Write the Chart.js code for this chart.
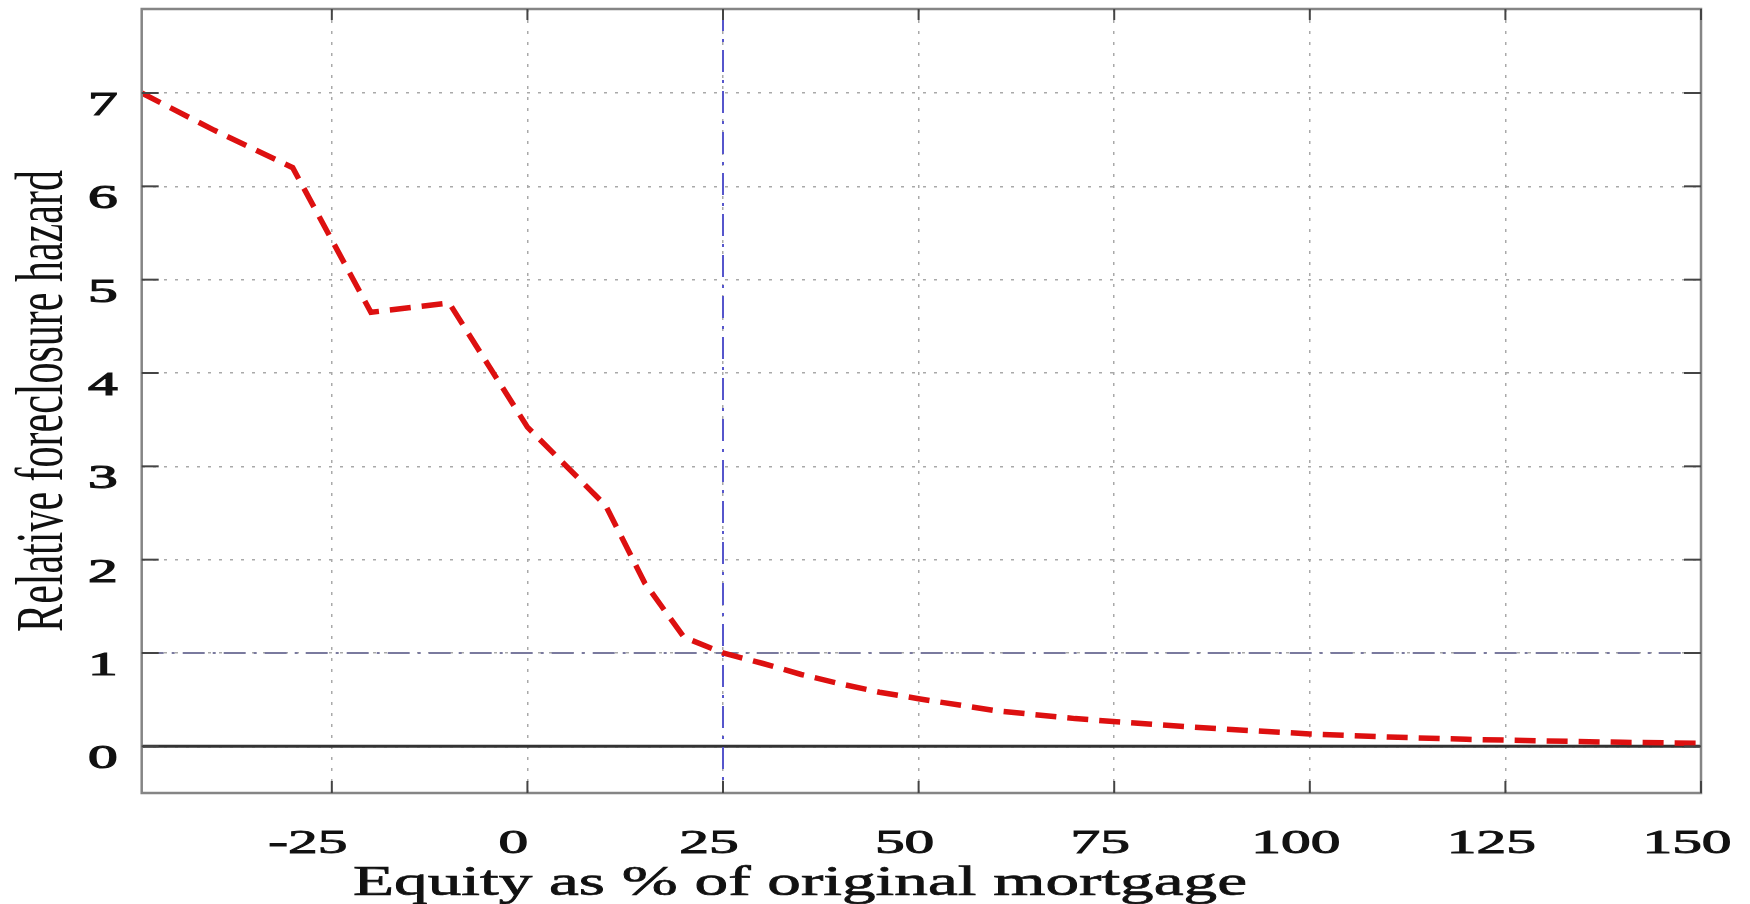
<!DOCTYPE html>
<html>
<head>
<meta charset="utf-8">
<script src="https://cdn.jsdelivr.net/npm/chart.js@4.4.0/dist/chart.umd.min.js"></script>
<style>
    html, body { margin: 0; padding: 0; background: #fff; }
    #wrap { width: 1750px; height: 904px; }
</style>
</head>
<body>
<div id="wrap"><canvas id="hazardChart" width="1750" height="904"></canvas></div>
<script>
// values
const equityPct = [-49.3, -40, -30, -20, -10, 0, 10, 15, 20, 25, 30, 35, 40, 45, 50, 60, 70, 80, 90, 100, 110, 120, 130, 140, 150];
const hazard = [7.0, 6.6, 6.2, 4.65, 4.75, 3.42, 2.58, 1.75, 1.17, 1.0, 0.89, 0.77, 0.67, 0.58, 0.51, 0.38, 0.297, 0.235, 0.18, 0.133, 0.1, 0.075, 0.058, 0.043, 0.033];
const xTickValues = [-25, 0, 25, 50, 75, 100, 125, 150];
const yTickValues = [0, 1, 2, 3, 4, 5, 6, 7];
const xTitle = 'Equity as % of original mortgage';
const yTitle = 'Relative foreclosure hazard';
const refEquity = 25;
const refHazard = 1;

const FONT = '"Liberation Serif", "DejaVu Serif", serif';

function stroke(ctx, x1, y1, x2, y2) {
    ctx.beginPath();
    ctx.moveTo(x1, y1);
    ctx.lineTo(x2, y2);
    ctx.stroke();
}

// text stretched like the scanned original, with a thin outline to thicken it
function wideText(ctx, text, x, y, sx, align, weight) {
    ctx.save();
    ctx.translate(x, y);
    ctx.scale(sx, 1);
    ctx.textAlign = align;
    ctx.fillText(text, 0, 0);
    if (weight) {
        ctx.lineWidth = weight;
        ctx.strokeText(text, 0, 0);
    }
    ctx.restore();
}

const frameAndText = {
    id: 'frameAndText',
    beforeDatasetsDraw(chart) {
        const { ctx, chartArea: a, scales: { x, y } } = chart;
        ctx.save();
        ctx.beginPath();
        ctx.rect(a.left, a.top, a.width, a.height);
        ctx.clip();

        // zero line
        ctx.strokeStyle = '#333';
        ctx.lineWidth = 3;
        const y0 = y.getPixelForValue(0);
        stroke(ctx, a.left, y0, a.right, y0);

        // reference hazard = 1
        ctx.setLineDash([22, 8, 3, 8]);
        ctx.strokeStyle = '#7a7a9e';
        ctx.lineWidth = 2;
        const y1 = y.getPixelForValue(refHazard);
        stroke(ctx, a.left, y1, a.right, y1);

        // reference equity = 25
        ctx.strokeStyle = '#5656cc';
        const xr = x.getPixelForValue(refEquity);
        stroke(ctx, xr, a.top, xr, a.bottom);
        ctx.restore();
    },
    afterDraw(chart) {
        const { ctx, chartArea: a, scales: { x, y } } = chart;
        ctx.save();

        // frame
        ctx.strokeStyle = '#858585';
        ctx.lineWidth = 2.5;
        ctx.strokeRect(a.left, a.top, a.width, a.height);

        // inward ticks
        ctx.strokeStyle = '#444';
        ctx.lineWidth = 2;
        yTickValues.forEach(v => {
            const py = y.getPixelForValue(v);
            stroke(ctx, a.left, py, a.left + 17, py);
            stroke(ctx, a.right - 17, py, a.right, py);
        });
        xTickValues.forEach(v => {
            const px = x.getPixelForValue(v);
            stroke(ctx, px, a.bottom, px, a.bottom - 12);
            stroke(ctx, px, a.top, px, a.top + 11);
        });

        // tick labels
        ctx.fillStyle = '#111';
        ctx.strokeStyle = '#111';
        ctx.font = '33px ' + FONT;
        ctx.textBaseline = 'alphabetic';
        const tsx = 1.8;
        yTickValues.forEach(v => {
            const py = y.getPixelForValue(v);
            wideText(ctx, String(v), a.left - 24, py + 22, tsx, 'right', 1.1);
        });
        xTickValues.forEach(v => {
            const px = x.getPixelForValue(v);
            const w = ctx.measureText(String(Math.abs(v))).width * tsx;
            wideText(ctx, String(v), px - 14 + w / 2, 853, tsx, 'right', 0.9);
        });

        // axis titles
        ctx.font = '42px ' + FONT;
        wideText(ctx, xTitle, 800, 895, 1.6, 'center', 0.7);

        ctx.save();
        ctx.translate(62, (a.top + a.bottom) / 2);
        ctx.rotate(-Math.PI / 2);
        ctx.scale(1, 1.6);
        ctx.textAlign = 'center';
        ctx.fillText(yTitle, 0, 0);
        ctx.restore();

        ctx.restore();
    }
};

new Chart(document.getElementById('hazardChart'), {
    type: 'line',
    data: {
        datasets: [{
            data: equityPct.map((v, i) => ({ x: v, y: hazard[i] })),
            borderColor: '#dd1010',
            borderWidth: 5.5,
            borderDash: [21, 11],
            pointRadius: 0,
            tension: 0,
            fill: false
        }]
    },
    options: {
        responsive: false,
        animation: false,
        devicePixelRatio: 1,
        layout: { padding: { left: 0, right: 49, top: 9, bottom: 0 } },
        plugins: { legend: { display: false }, tooltip: { enabled: false } },
        scales: {
            x: {
                type: 'linear',
                min: -49.3,
                max: 150,
                afterBuildTicks: s => { s.ticks = xTickValues.map(v => ({ value: v })); },
                afterFit: s => { s.height = 111; },
                ticks: { display: false },
                grid: { color: '#a9a9a9', lineWidth: 1.5, drawTicks: false },
                border: { display: false, dash: [3, 8] }
            },
            y: {
                type: 'linear',
                min: -0.5,
                max: 7.9,
                afterBuildTicks: s => { s.ticks = yTickValues.map(v => ({ value: v })); },
                afterFit: s => { s.width = 141.7; },
                ticks: { display: false },
                grid: { color: '#a9a9a9', lineWidth: 1.5, drawTicks: false },
                border: { display: false, dash: [3, 8] }
            }
        }
    },
    plugins: [frameAndText]
});
</script>
</body>
</html>
